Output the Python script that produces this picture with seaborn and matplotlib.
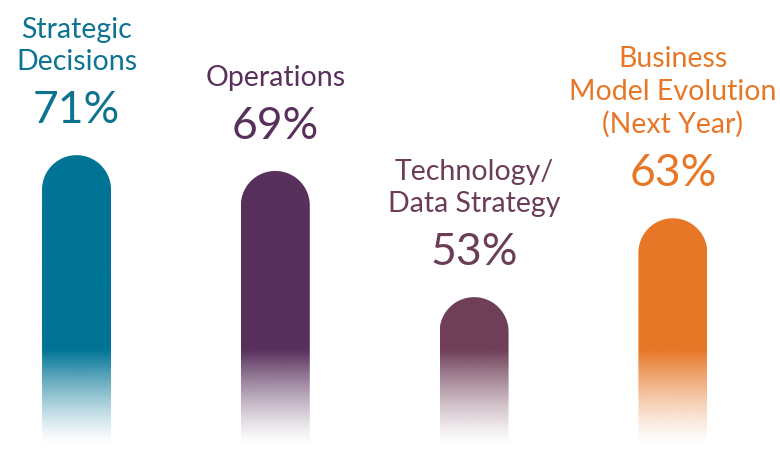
import numpy as np
import pandas as pd
import matplotlib
matplotlib.use("Agg")
import matplotlib.pyplot as plt
import seaborn as sns
from matplotlib.patches import PathPatch
from matplotlib.path import Path
from matplotlib.colors import to_rgb

# Data
categories = ["Strategic\nDecisions", "Operations", "Technology/\nData Strategy",
              "Business\nModel Evolution\n(Next Year)"]
values = [71, 69, 53, 63]
bar_colors = ["#007495", "#58305C", "#703F58", "#E77726"]
text_colors = ["#0E7390", "#58305C", "#6B3D57", "#E77726"]

sns.set_style("white")
plt.rcParams["font.family"] = ["Lato", "DejaVu Sans"]

df = pd.DataFrame({"category": categories, "value": values})

fig = plt.figure(figsize=(7.8, 4.64), dpi=100)
ax = fig.add_axes([0, 0, 1, 1])

sns.barplot(data=df, x="category", y="value", hue="category",
            palette=bar_colors, width=0.347, legend=False, ax=ax)

# axis limits chosen so bars start around 34% and fade out
y_low, y_high = 31.97, 90.8
ax.set_xlim(-0.385, 3.539)
ax.set_ylim(y_low, y_high)
ax.axis("off")

base = 34.2        # where bars fade to white
fade_top = 46.2    # where fade starts
px_per_x = 780 / (3.539 + 0.385)
px_per_y = 464 / (y_high - y_low)

for bar, col in zip(list(ax.patches), bar_colors):
    x0 = bar.get_x()
    w = bar.get_width()
    top = bar.get_height()
    bar.set_visible(False)

    # gradient image: solid above fade_top, fading to white at base
    ys = np.linspace(base, top, 400)
    alpha = np.clip((ys - base) / (fade_top - base), 0, 1)
    alpha = alpha ** 1.3
    rgb = np.array(to_rgb(col))
    img = np.ones((len(ys), 1, 4))
    img[:, 0, :3] = rgb
    img[:, 0, 3] = alpha
    im = ax.imshow(img, extent=(x0, x0 + w, base, top), origin="lower",
                   aspect="auto", interpolation="bilinear", zorder=2)

    # rounded (semicircle) cap clip path
    rx = w / 2
    ry = rx * px_per_x / px_per_y
    cx = x0 + rx
    t = np.linspace(np.pi, 0, 60)
    arc_x = cx + rx * np.cos(t)
    arc_y = top - ry + ry * np.sin(t)
    vx = np.concatenate([[x0], arc_x, [x0 + w, x0]])
    vy = np.concatenate([[base], arc_y, [base, base]])
    clip = PathPatch(Path(np.column_stack([vx, vy]), closed=True),
                     transform=ax.transData, facecolor="none", edgecolor="none")
    ax.add_patch(clip)
    im.set_clip_path(clip)

# labels above bars
for i, (cat, v, tc) in enumerate(zip(categories, values, text_colors)):
    ax.annotate(f"{v}%", (i, v), xytext=(0, 23.8), textcoords="offset points",
                ha="center", va="baseline", fontsize=32, color=tc)
    ax.annotate(cat, (i, v), xytext=(0, 62), textcoords="offset points",
                ha="center", va="baseline", fontsize=20.5, color=tc,
                linespacing=1.3, multialignment="center")

fig.savefig("out.png", dpi=100, facecolor="white")
